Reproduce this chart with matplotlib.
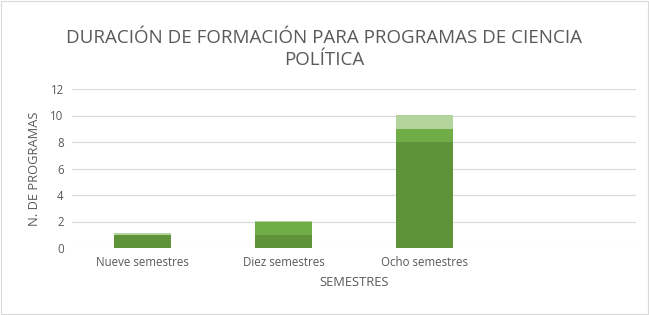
import matplotlib.pyplot as plt
import numpy as np

categories = ["Nueve semestres", "Diez semestres", "Ocho semestres", ""]
serie_1 = [1, 1, 8, 0]
serie_2 = [0, 1, 1, 0]
serie_3 = [0.15, 0.07, 1.05, 0]
colors = ["#5E933A", "#70AD47", "#B4D49E"]
yticks = [0, 2, 4, 6, 8, 10, 12]

plt.rcParams['font.family'] = ['Open Sans', 'DejaVu Sans']
txt = "#595959"

fig = plt.figure(figsize=(6.49, 3.15), dpi=100)
ax = fig.add_axes([72 / 649, 1 - 248 / 315, (636 - 72) / 649, (248 - 89) / 315])

x = np.arange(len(categories))
b1 = np.array(serie_1)
b2 = np.array(serie_2)
b3 = np.array(serie_3)
ax.bar(x, b1, width=0.4, color=colors[0], zorder=3)
ax.bar(x, b2, width=0.4, bottom=b1, color=colors[1], zorder=3)
ax.bar(x, b3, width=0.4, bottom=b1 + b2, color=colors[2], zorder=3)

ax.set_xlim(-0.5, len(categories) - 0.5)
ax.set_ylim(0, 12)
ax.set_yticks(yticks)
ax.set_xticks(x)
ax.set_xticklabels(categories)
ax.grid(axis='y', color="#D9D9D9", linewidth=0.8, zorder=0)
for s in ax.spines.values():
    s.set_visible(False)
ax.tick_params(length=0, labelsize=8.3, colors=txt, pad=6)

ax.set_xlabel("SEMESTRES", fontsize=9.3, color=txt, labelpad=5)
ax.set_ylabel("N. DE PROGRAMAS", fontsize=9.3, color=txt, labelpad=7)

fig.text(0.5, 1 - 49 / 315, "DURACIÓN DE FORMACIÓN PARA PROGRAMAS DE CIENCIA\nPOLÍTICA",
         ha='center', va='center', fontsize=13.5, color=txt, linespacing=1.25)

fig.patches.append(plt.Rectangle((0.002, 0.003), 0.996, 0.994, transform=fig.transFigure,
                                 fill=False, edgecolor="#D9D9D9", linewidth=0.8))

fig.savefig("out.png", dpi=100, facecolor="white")
